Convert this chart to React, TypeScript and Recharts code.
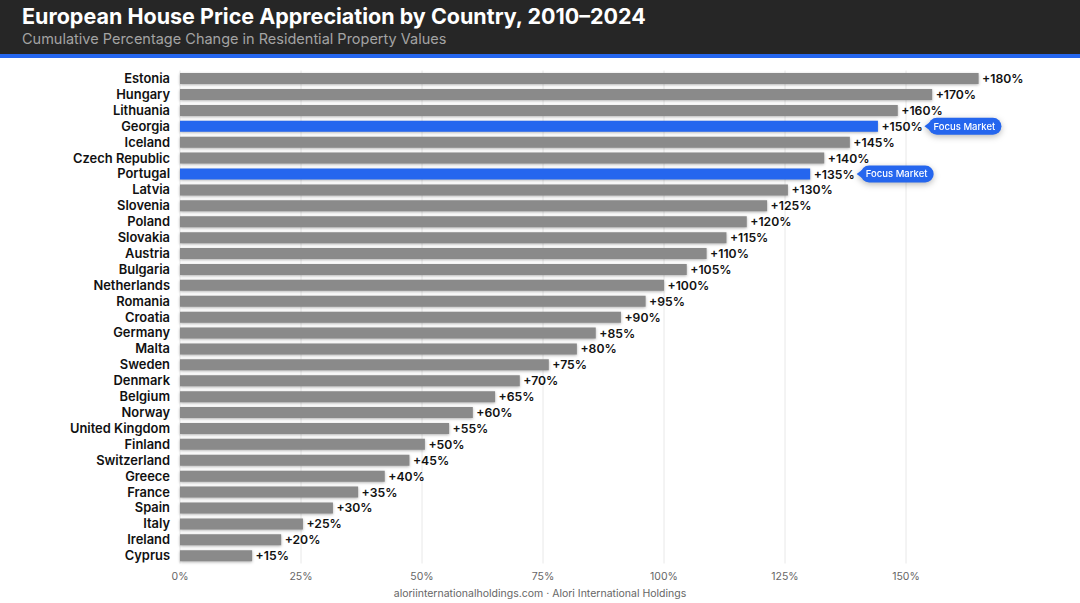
import { BarChart, Bar, XAxis, YAxis, CartesianGrid, Cell, LabelList } from 'recharts';

const countries = [
  'Estonia', 'Hungary', 'Lithuania', 'Georgia', 'Iceland', 'Czech Republic', 'Portugal', 'Latvia',
  'Slovenia', 'Poland', 'Slovakia', 'Austria', 'Bulgaria', 'Netherlands', 'Romania', 'Croatia',
  'Germany', 'Malta', 'Sweden', 'Denmark', 'Belgium', 'Norway', 'United Kingdom', 'Finland',
  'Switzerland', 'Greece', 'France', 'Spain', 'Italy', 'Ireland', 'Cyprus',
];
// bar lengths as drawn in the picture, they don't quite agree with the printed labels
const drawnValues = [
  165, 155.4, 148.3, 144.2, 138.4, 133.1, 130.2, 125.6, 121.3, 117.1, 112.9, 108.8, 104.7, 100, 96.2, 91.1,
  85.9, 82, 76.2, 70.2, 65.1, 60.5, 55.6, 50.6, 47.4, 42.3, 36.8, 31.6, 25.4, 20.9, 14.9,
];
const printedValues = [
  180, 170, 160, 150, 145, 140, 135, 130, 125, 120, 115, 110, 105, 100, 95, 90,
  85, 80, 75, 70, 65, 60, 55, 50, 45, 40, 35, 30, 25, 20, 15,
];
const focusCountries = ['Georgia', 'Portugal'];
const xTicks = [0, 25, 50, 75, 100, 125, 150];

const data = countries.map((country, i) => ({
  country,
  value: drawnValues[i],
  printed: printedValues[i],
}));

const FONT = 'Inter, sans-serif';
const BLUE = '#2566EE';

function ValueLabel(props: any) {
  const { x, y, width, height, index } = props;
  const row = data[index];
  const textX = x + width + 3.5;
  const midY = y + height / 2;
  const pillX = textX + 43;
  return (
    <g>
      <text x={textX} y={midY + 4.5} fontFamily={FONT} fontSize={12.2} fontWeight={600} fill="#111">
        {`+${row.printed}%`}
      </text>
      {focusCountries.includes(row.country) && (
        <g style={{ filter: 'drop-shadow(0 2px 3px rgba(0,0,0,0.28))' }}>
          <path d={`M${pillX} ${midY} l6 -4.5 v9 z`} fill={BLUE} />
          <rect x={pillX + 4} y={midY - 8.5} width={73} height={17} rx={8.5} fill={BLUE} />
          <text x={pillX + 40} y={midY + 3.3} textAnchor="middle" fontFamily={FONT} fontSize={9.5} fontWeight={500} fill="#fff">
            Focus Market
          </text>
        </g>
      )}
    </g>
  );
}

export default function App() {
  return (
    <div style={{ position: 'absolute', left: 0, top: 0, width: 1080, height: 603, background: '#fff', overflow: 'hidden', fontFamily: FONT }}>
      <div style={{ position: 'absolute', left: 0, top: 0, width: 1080, height: 54, background: '#262626', borderBottom: '4px solid ' + BLUE }}>
        <div style={{ position: 'absolute', left: 22, top: 3, fontSize: 21.5, fontWeight: 700, color: '#fff', whiteSpace: 'nowrap' }}>
          European House Price Appreciation by Country, 2010–2024
        </div>
        <div style={{ position: 'absolute', left: 22, top: 30, fontSize: 14.5, color: '#a3a3a3', whiteSpace: 'nowrap' }}>
          Cumulative Percentage Change in Residential Property Values
        </div>
      </div>
      <div style={{ position: 'absolute', top: 0, left: 0 }}>
        <BarChart
          width={1080}
          height={603}
          data={data}
          layout="vertical"
          barCategoryGap={2.6}
          margin={{ top: 70.5, right: 28.8, bottom: 0, left: 0 }}
        >
          <CartesianGrid horizontal={false} stroke="#e8e8e8" strokeWidth={1} syncWithTicks />
          <XAxis
            type="number"
            domain={[0, 180]}
            ticks={xTicks}
            tickFormatter={(v: number) => `${v}%`}
            height={39.5}
            axisLine={false}
            tickLine={false}
            tickMargin={3}
            tick={{ fontSize: 10.5, fill: '#666', fontFamily: FONT }}
          />
          <YAxis
            type="category"
            dataKey="country"
            width={180}
            interval={0}
            axisLine={false}
            tickLine={false}
            tickMargin={4}
            tick={{ fontSize: 12.9, fontWeight: 600, fill: '#111', fontFamily: FONT }}
          />
          <Bar dataKey="value" isAnimationActive={false} style={{ filter: 'drop-shadow(0 1px 1.5px rgba(0,0,0,0.3))' }}>
            {data.map((d) => (
              <Cell key={d.country} fill={focusCountries.includes(d.country) ? BLUE : '#8a8a8a'} />
            ))}
            <LabelList dataKey="printed" content={ValueLabel} />
          </Bar>
        </BarChart>
      </div>
      <div style={{ position: 'absolute', left: 0, width: 1080, top: 587, textAlign: 'center', fontSize: 10.5, color: '#666' }}>
        aloriinternationalholdings.com · Alori International Holdings
      </div>
    </div>
  );
}
